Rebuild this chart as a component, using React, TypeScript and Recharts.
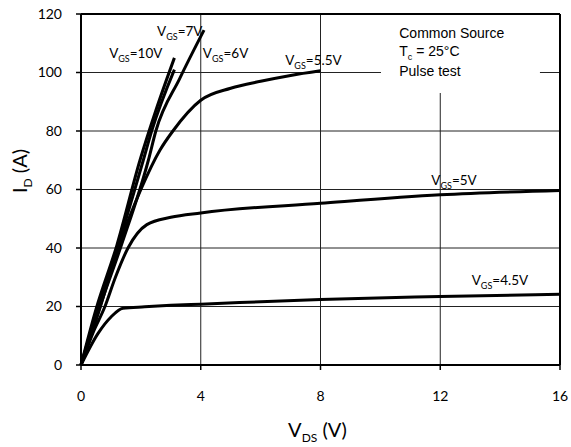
import React from 'react';
import { LineChart, Line, XAxis, YAxis, CartesianGrid, ReferenceLine, ReferenceArea, ReferenceDot, Label } from 'recharts';

// axes
const vdsTicks = [0, 4, 8, 12, 16];
const idTicks = [0, 20, 40, 60, 80, 100, 120];

// output curves (V_DS in volts, I_D in amps)
const vds10V = [0, 0.5, 1.2, 1.97, 2.5, 3.12];
const id10V = [0, 19, 41, 70, 87, 105];

const vds7V = [0, 0.6, 1.35, 2.25, 2.5, 3.3, 4.11];
const id7V = [0, 19, 41, 70, 80, 98, 114.5];

const vds6V = [0, 0.55, 1.24, 2.08, 2.36, 3.12];
const id6V = [0, 19, 41, 70, 80, 101];

const vds55V = [0, 0.65, 1.24, 2.0, 2.64, 3.07, 4, 5, 6, 7, 8];
const id55V = [0, 20, 40, 60, 73.5, 80, 90.5, 94.6, 97, 99, 100.6];

const vds5V = [0, 0.4, 0.8, 1.15, 1.57, 2.2, 3, 4, 8, 12, 16];
const id5V = [0, 11, 20, 30, 40, 48, 50.5, 52, 55.3, 58.2, 59.7];

const vds45V = [0, 0.57, 1.01, 1.4, 2.13, 3, 4, 8, 12, 16];
const id45V = [0, 10.8, 16.5, 19.4, 19.9, 20.4, 20.8, 22.4, 23.4, 24.2];

const curveNames = ['10V', '7V', '6V', '5.5V', '5V', '4.5V'];
const noteLines = ['Common Source', '= 25°C', 'Pulse test'];

const zip = (xs: number[], ys: number[]) => xs.map((x, i) => ({ x, y: ys[i] }));

const series = [
  zip(vds10V, id10V),
  zip(vds7V, id7V),
  zip(vds6V, id6V),
  zip(vds55V, id55V),
  zip(vds5V, id5V),
  zip(vds45V, id45V),
];

// where each V_GS label starts (data coords)
const labelAnchors = [
  { x: 0.94, y: 105 },
  { x: 2.54, y: 112.5 },
  { x: 4.07, y: 105 },
  { x: 6.82, y: 102.6 },
  { x: 11.7, y: 61.5 },
  { x: 13.05, y: 27.4 },
];

const tickFont = 'Lato, "Noto Sans", sans-serif';
const noteFont = '"Liberation Sans", Arial, sans-serif';

const CurveLabel = ({ cx, cy, name }: any) => (
  <text x={cx} y={cy} fontFamily={tickFont} fontSize={13.5} fill="#000">
    V
    <tspan fontSize={9} dy={4}>GS</tspan>
    <tspan dy={-4}>={name}</tspan>
  </text>
);

const NoteBox = ({ cx, cy }: any) => (
  <text x={cx} y={cy} fontFamily={noteFont} fontSize={14} fill="#000">
    <tspan x={cx}>{noteLines[0]}</tspan>
    <tspan x={cx} dy={18}>T</tspan>
    <tspan fontSize={9} dy={4}>c</tspan>
    <tspan dy={-4}> {noteLines[1]}</tspan>
    <tspan x={cx} dy={20}>{noteLines[2]}</tspan>
  </text>
);

const YTitle = ({ viewBox }: any) => {
  const cy = viewBox.y + 157;
  return (
    <text x={27} y={cy} transform={`rotate(-90 27 ${cy})`} textAnchor="middle" fontFamily={tickFont} fontSize={20} fill="#000">
      I<tspan fontSize={12} dy={5}>D</tspan>
      <tspan dy={-5}> (A)</tspan>
    </text>
  );
};

const XTitle = ({ viewBox }: any) => (
  <text x={viewBox.x + viewBox.width / 2 - 3} y={437} textAnchor="middle" fontFamily={tickFont} fontSize={20} fill="#000">
    V<tspan fontSize={12} dy={5}>DS</tspan>
    <tspan dy={-5}> (V)</tspan>
  </text>
);

export default function App() {
  return (
    <div style={{ position: 'absolute', left: 0, top: 0, background: '#fff' }}>
      <LineChart width={571} height={447} margin={{ top: 14, right: 11, bottom: 32, left: 0 }}>
        <CartesianGrid stroke="#222" strokeWidth={1} />
        <XAxis
          type="number"
          dataKey="x"
          domain={[0, 16]}
          ticks={vdsTicks}
          height={50}
          axisLine={{ stroke: '#000', strokeWidth: 2 }}
          tickLine={{ stroke: '#000', strokeWidth: 1.5 }}
          tickSize={5}
          tickMargin={21}
          tick={{ fill: '#000', fontSize: 14, fontFamily: tickFont }}
          allowDuplicatedCategory={false}
        >
          <Label content={<XTitle />} />
        </XAxis>
        <YAxis
          type="number"
          dataKey="y"
          domain={[0, 120]}
          ticks={idTicks}
          width={81}
          axisLine={{ stroke: '#000', strokeWidth: 2 }}
          tickLine={{ stroke: '#000', strokeWidth: 1.5 }}
          tickSize={5}
          tickMargin={14}
          tick={{ fill: '#000', fontSize: 14, fontFamily: tickFont }}
        >
          <Label content={<YTitle />} />
        </YAxis>
        <ReferenceArea x1={10.02} x2={15.33} y1={93} y2={120} fill="#fff" fillOpacity={1} stroke="none" />
        <ReferenceLine x={16} stroke="#000" strokeWidth={2} />
        <ReferenceLine y={120} stroke="#000" strokeWidth={2} />
        {series.map((data, i) => (
          <Line
            key={curveNames[i]}
            data={data}
            dataKey="y"
            type="monotone"
            stroke="#000"
            strokeWidth={3}
            dot={false}
            isAnimationActive={false}
          />
        ))}
        {labelAnchors.map((a, i) => (
          <ReferenceDot
            key={`lbl-${i}`}
            x={a.x}
            y={a.y}
            r={0}
            shape={(p: any) => <CurveLabel cx={p.cx} cy={p.cy} name={curveNames[i]} />}
          />
        ))}
        <ReferenceDot x={10.63} y={111.8} r={0} shape={(p: any) => <NoteBox cx={p.cx} cy={p.cy} />} />
      </LineChart>
    </div>
  );
}
